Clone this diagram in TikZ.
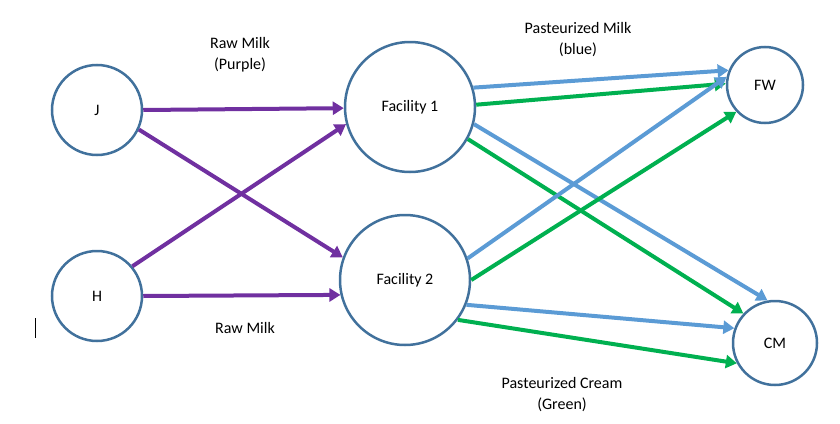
\documentclass[tikz,border=0pt]{standalone}
\usepackage{fontspec}
\setmainfont{Carlito}
\usetikzlibrary{arrows.meta}
\definecolor{pur}{HTML}{7030A0}
\definecolor{blu}{HTML}{5B9BD5}
\definecolor{grn}{HTML}{00B050}
\definecolor{edge}{HTML}{41719C}
\begin{document}
\begin{tikzpicture}[x=1pt,y=-1pt,
  nd/.style={circle,draw=edge,line width=2.5pt,fill=white,inner sep=0pt,font=\fontsize{16}{18}\selectfont},
  ar/.style={line width=4pt,-{Triangle[length=11pt,width=13pt]}},
  lb/.style={align=center,font=\fontsize{16}{21}\selectfont}]
\useasboundingbox (0,0) rectangle (840,423);
\node[nd,minimum size=90pt] (J) at (97,110) {J};
\node[nd,minimum size=90pt] (H) at (97,296) {H};
\node[nd,minimum size=130pt] (F1) at (410,107) {Facility 1};
\node[nd,minimum size=130pt] (F2) at (405,280) {Facility 2};
\node[nd,minimum size=76pt] (FW) at (765,85) {FW};
\node[nd,minimum size=84pt] (CM) at (775,343) {CM};
\draw[ar,pur] (J.0) -- (F1.181);
\draw[ar,pur] (J.-25) -- (F2.160);
\draw[ar,pur] (H.40) -- (F1.195);
\draw[ar,pur] (H.0) -- (F2.193);
\draw[ar,blu] (F1.17) -- (FW.158);
\draw[ar,grn] (F1.2) -- (FW.178);
\draw[ar,blu] (F1.-15) -- (CM.100);
\draw[ar,grn] (F1.-29) -- (CM.137);
\draw[ar,blu] (F2.19) -- (FW.168);
\draw[ar,grn] (F2.0) -- (FW.223);
\draw[ar,blu] (F2.-22) -- (CM.160);
\draw[ar,grn] (F2.-37) -- (CM.208);
\coordinate (t1) at (35,318); \coordinate (t2) at (35,338);
\draw[line width=0.8pt] (t1) -- (t2);
\node[lb] (l1) at (240,55) {Raw Milk\\(Purple)};
\node[lb] (l2) at (245,328) {Raw Milk};
\node[lb] (l3) at (578,40) {Pasteurized Milk\\(blue)};
\node[lb] (l4) at (562,395) {Pasteurized Cream\\(Green)};
\end{tikzpicture}
\end{document}
